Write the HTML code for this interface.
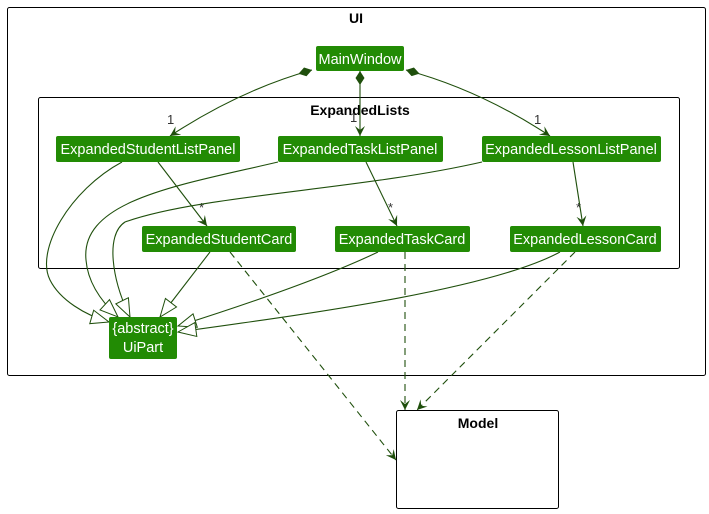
<!DOCTYPE html>
<html><head><meta charset="utf-8"><style>
html,body{margin:0;padding:0;background:#fff;}
svg{display:block;}
text{font-family:"Liberation Sans",sans-serif;}
.n{fill:#228b04;}
.t{fill:#fff;font-size:14.5px;text-anchor:middle;}
.e{stroke:#1f4f0c;stroke-width:1.1;fill:none;}
.d{stroke:#1f4f0c;stroke-width:1.1;fill:none;stroke-dasharray:7,5;}
.l{font-size:13px;fill:#333;}
</style></head><body>
<svg width="709" height="514" viewBox="0 0 709 514" xmlns="http://www.w3.org/2000/svg">
<defs>
<marker id="a" markerWidth="12" markerHeight="12" refX="10" refY="5" orient="auto" markerUnits="userSpaceOnUse"><path d="M0,0 L10,5 L0,10 L4,5 Z" fill="#1f4f0c"/></marker>
<marker id="dm" markerWidth="16" markerHeight="10" refX="14" refY="4.5" orient="auto-start-reverse" markerUnits="userSpaceOnUse"><path d="M0,4.5 L7,0 L14,4.5 L7,9 Z" fill="#1f4f0c"/></marker>
<marker id="g" markerWidth="22" markerHeight="18" refX="19" refY="8" orient="auto" markerUnits="userSpaceOnUse"><path d="M1,1 L19,8 L1,15 Z" fill="#fff" stroke="#1f4f0c"/></marker>
</defs>
<rect x="7.5" y="7.5" width="698" height="368" rx="2" fill="none" stroke="#000"/>
<text x="356" y="23" font-size="14" font-weight="bold" text-anchor="middle">UI</text>
<rect x="38.5" y="97.5" width="641" height="171" rx="2" fill="none" stroke="#000"/>
<text x="360" y="115" font-size="14" font-weight="bold" text-anchor="middle">ExpandedLists</text>
<rect x="396.5" y="410.5" width="162" height="98" rx="2" fill="none" stroke="#000"/>
<text x="478" y="428" font-size="14" font-weight="bold" text-anchor="middle">Model</text>

<path class="e" d="M312,70 Q240,90 170,136" marker-start="url(#dm)" marker-end="url(#a)"/>
<path class="e" d="M360,71 L360,136" marker-start="url(#dm)" marker-end="url(#a)"/>
<path class="e" d="M406,70 Q480,90 550,136" marker-start="url(#dm)" marker-end="url(#a)"/>
<text class="l" x="167" y="124">1</text>
<text class="l" x="350" y="122">1</text>
<text class="l" x="534" y="124">1</text>
<path class="e" d="M158,162 L207,226" marker-end="url(#a)"/>
<path class="e" d="M366,162 L397,226" marker-end="url(#a)"/>
<path class="e" d="M573,162 L583,226" marker-end="url(#a)"/>
<text class="l" x="199" y="212">*</text>
<text class="l" x="388" y="212">*</text>
<text class="l" x="576" y="212">*</text>

<path class="e" d="M122,162 C70,190 35,250 50,280 C60,300 85,315 109,322" marker-end="url(#g)"/>
<path class="e" d="M278,162 C180,185 80,200 86,260 C88,285 105,305 118,317" marker-end="url(#g)"/>
<path class="e" d="M482,162 C360,190 200,195 125,222 C105,235 112,280 130,317" marker-end="url(#g)"/>
<path class="e" d="M210,252 L160,317" marker-end="url(#g)"/>
<path class="e" d="M378,252 C330,275 260,300 178,326" marker-end="url(#g)"/>
<path class="e" d="M560,252 C490,290 300,315 178,332" marker-end="url(#g)"/>

<path class="d" d="M230,252 L396,460" marker-end="url(#a)"/>
<path class="d" d="M405,252 L405,410" marker-end="url(#a)"/>
<path class="d" d="M575,252 L417,410" marker-end="url(#a)"/>

<rect class="n" x="316" y="46" width="88" height="25" rx="2"/><text class="t" x="360" y="64">MainWindow</text>
<rect class="n" x="56" y="136" width="184" height="26" rx="2"/><text class="t" x="148" y="154">ExpandedStudentListPanel</text>
<rect class="n" x="278" y="136" width="165" height="26" rx="2"/><text class="t" x="360" y="154">ExpandedTaskListPanel</text>
<rect class="n" x="482" y="136" width="179" height="26" rx="2"/><text class="t" x="571" y="154">ExpandedLessonListPanel</text>
<rect class="n" x="142" y="226" width="154" height="26" rx="2"/><text class="t" x="219" y="244">ExpandedStudentCard</text>
<rect class="n" x="335" y="226" width="135" height="26" rx="2"/><text class="t" x="402" y="244">ExpandedTaskCard</text>
<rect class="n" x="510" y="226" width="151" height="26" rx="2"/><text class="t" x="585" y="244">ExpandedLessonCard</text>
<rect class="n" x="109" y="317" width="68" height="42" rx="2"/>
<text class="t" x="143" y="333">{abstract}</text>
<text class="t" x="143" y="352">UiPart</text>
</svg>
</body></html>
